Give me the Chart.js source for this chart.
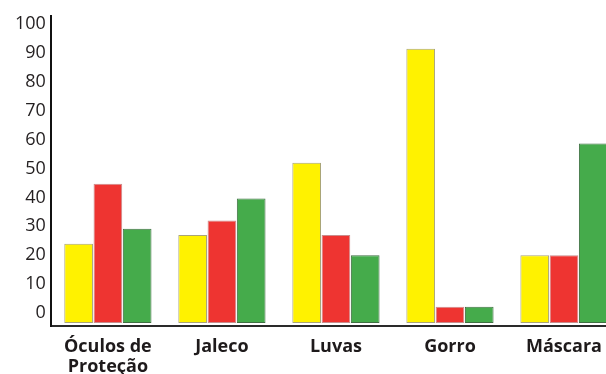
<!DOCTYPE html>
<html>
<head>
<meta charset="utf-8">
<script src="https://cdn.jsdelivr.net/npm/chart.js@4/dist/chart.umd.min.js"></script>
<style>
  html, body { margin: 0; padding: 0; background: #fff; overflow: hidden; }
  #wrap { width: 621px; height: 374px; position: relative; }
</style>
</head>
<body>
<div id="wrap"><canvas id="c"></canvas></div>
<script>
// ---- data ----
const categories = [['Óculos de', 'Proteção'], 'Jaleco', 'Luvas', 'Gorro', 'Máscara'];
const yellowValues = [24, 27, 52, 91.5, 20];
const redValues    = [44.7, 32, 27, 2.2, 20];
const greenValues  = [29.2, 39.6, 20, 2.2, 58.7];
const yTickValues  = [0, 10, 20, 30, 40, 50, 60, 70, 80, 90, 100];
const barBase = -3.5;
const yMin = -4.5;
const yMax = 102.8;

const mk = (data, fill, border) => ({
  data, backgroundColor: fill, borderColor: border, borderWidth: 1,
  base: barBase, borderSkipped: false
});

new Chart(document.getElementById('c'), {
  type: 'bar',
  data: {
    labels: categories,
    datasets: [
      mk(yellowValues, '#fff200', '#a8a47a'),
      mk(redValues, '#ee3431', '#c98c8c'),
      mk(greenValues, '#45ab4b', '#3f6f42')
    ]
  },
  options: {
    responsive: true,
    maintainAspectRatio: false,
    animation: false,
    layout: { padding: { top: 16, left: 10, right: 0, bottom: 0 } },
    plugins: { legend: { display: false }, tooltip: { enabled: false } },
    datasets: { bar: { categoryPercentage: 0.77, barPercentage: 0.98 } },
    scales: {
      x: {
        afterFit: (s) => { s.height = 48; },
        grid: { drawOnChartArea: false, drawTicks: false, color: 'transparent' },
        border: { display: true, color: '#2a2a2a', width: 2 },
        ticks: {
          autoSkip: false, maxRotation: 0, padding: 11, color: '#1e1a1b',
          font: { family: 'Open Sans', size: 18, weight: 'bold', lineHeight: '20px' }
        }
      },
      y: {
        min: yMin, max: yMax,
        grid: { drawOnChartArea: false, drawTicks: false, color: 'transparent' },
        border: { display: true, color: '#111', width: 2 },
        afterBuildTicks: (scale) => { scale.ticks = yTickValues.map(v => ({ value: v })); },
        ticks: {
          padding: 5, color: '#231f20',
          font: { family: 'Open Sans', size: 18, lineHeight: '20px' }
        }
      }
    }
  }
});
</script>
</body>
</html>
